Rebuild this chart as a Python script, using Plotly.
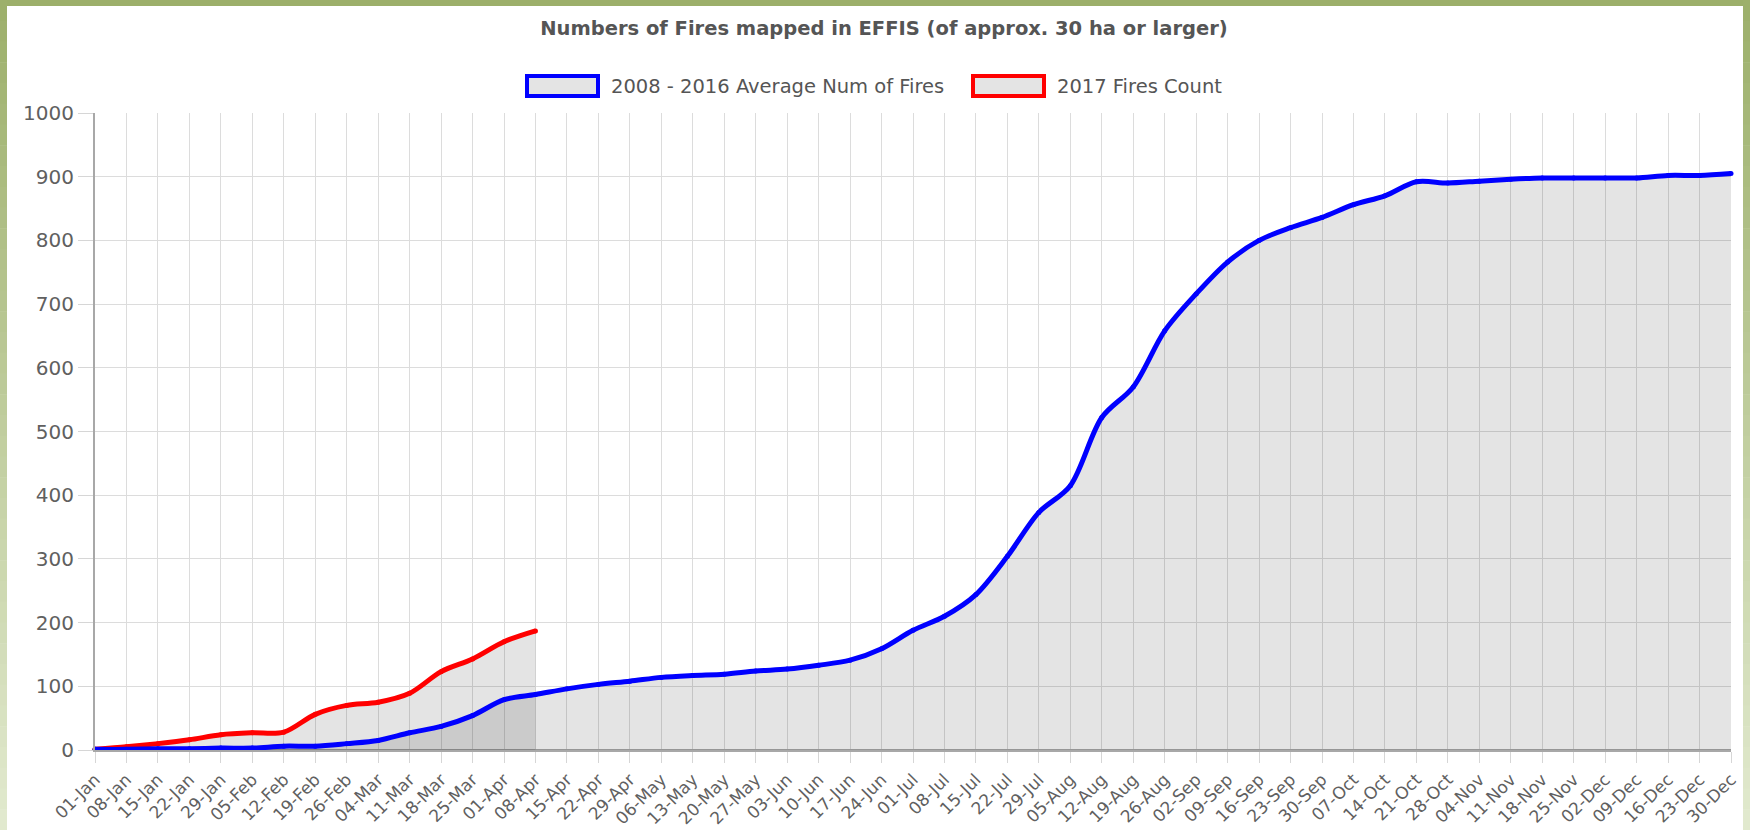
import plotly.graph_objects as go

categories = ['01-Jan','08-Jan','15-Jan','22-Jan','29-Jan','05-Feb','12-Feb','19-Feb','26-Feb',
              '04-Mar','11-Mar','18-Mar','25-Mar','01-Apr','08-Apr','15-Apr','22-Apr','29-Apr',
              '06-May','13-May','20-May','27-May','03-Jun','10-Jun','17-Jun','24-Jun','01-Jul',
              '08-Jul','15-Jul','22-Jul','29-Jul','05-Aug','12-Aug','19-Aug','26-Aug','02-Sep',
              '09-Sep','16-Sep','23-Sep','30-Sep','07-Oct','14-Oct','21-Oct','28-Oct','04-Nov',
              '11-Nov','18-Nov','25-Nov','02-Dec','09-Dec','16-Dec','23-Dec','30-Dec']

avg_2008_2016 = [1, 1, 2, 2, 3, 3, 6, 6, 10, 15, 27, 37, 54, 79, 87,
                 96, 103, 108, 114, 117, 119, 124, 127, 133, 141, 159, 188, 210, 244, 304,
                 373, 415, 522, 570, 658, 716, 766, 800, 820, 836, 856, 870, 892, 890,
                 893, 896, 898, 898, 898, 898, 902, 902, 905]

count_2017 = [1, 5, 10, 16, 24, 27, 28, 56, 70, 75, 89, 123, 143, 170, 187]

series_names = ['2008 - 2016 Average Num of Fires', '2017 Fires Count']
series_colors = ['#0000ff', '#ff0000']
title_text = 'Numbers of Fires mapped in EFFIS (of approx. 30 ha or larger)'

W, H = 1750, 830
L, R, T, B = 95, 19, 113, 80
PW, PH = W - L - R, H - T - B


def px(x):
    return (x - L) / PW


def py(y):
    return (H - B - y) / PH


FONT = 'DejaVu Sans'
fill = 'rgba(0,0,0,0.105)'

fig = go.Figure()
fig.add_trace(go.Scatter(
    x=categories[:len(count_2017)], y=count_2017, name=series_names[1],
    mode='lines+markers', line=dict(color=series_colors[1], width=5, shape='spline', smoothing=0.9),
    marker=dict(size=5, color=series_colors[1]), fill='tozeroy', fillcolor=fill,
    showlegend=False, cliponaxis=False))
fig.add_trace(go.Scatter(
    x=categories, y=avg_2008_2016, name=series_names[0],
    mode='lines+markers', line=dict(color=series_colors[0], width=5, shape='spline', smoothing=0.9),
    marker=dict(size=5, color=series_colors[0]), fill='tozeroy', fillcolor=fill,
    showlegend=False, cliponaxis=False))

shapes = []
# frame: top band
shapes.append(dict(type='rect', xref='paper', yref='paper', x0=px(0), x1=px(W), y0=py(6), y1=py(0),
                   fillcolor='#9caf6a', line=dict(width=0), layer='above'))


def mix(c1, c2, t):
    a = [int(c1[i:i + 2], 16) for i in (1, 3, 5)]
    b = [int(c2[i:i + 2], 16) for i in (1, 3, 5)]
    return '#%02x%02x%02x' % tuple(round(a[k] + (b[k] - a[k]) * t) for k in range(3))


N = 40
for k in range(N):
    y0p, y1p = H * k / N, H * (k + 1) / N
    col = mix('#9caf6a', '#e2eacf', (k + 0.5) / N)
    for (xa, xb) in ((0, 7), (W - 7, W)):
        shapes.append(dict(type='rect', xref='paper', yref='paper', x0=px(xa), x1=px(xb),
                           y0=py(y1p + 0.5), y1=py(y0p), fillcolor=col, line=dict(width=0), layer='above'))

# custom legend boxes
annotations = []
legend_items = [(527, 598, 609), (973, 1044, 1055)]
for (bx0, bx1, tx), name, col in zip(legend_items, series_names, series_colors):
    shapes.append(dict(type='rect', xref='paper', yref='paper', x0=px(bx0), x1=px(bx1),
                       y0=py(96), y1=py(76), fillcolor='#e4e4e4', line=dict(color=col, width=4)))
    annotations.append(dict(text=name, xref='paper', yref='paper', x=px(tx), y=py(86),
                            xanchor='left', yanchor='middle', showarrow=False,
                            font=dict(family=FONT, size=19.5, color='#555555')))

fig.update_layout(
    template='none',
    width=W, height=H,
    margin=dict(l=L, r=R, t=T, b=B, autoexpand=False),
    paper_bgcolor='white', plot_bgcolor='white',
    title=dict(text=title_text, x=884 / W, xref='container', xanchor='center',
               y=1 - 28 / H, yref='container', yanchor='middle',
               font=dict(family=FONT, size=19.5, color='#555555', weight='bold')),
    shapes=shapes, annotations=annotations,
    showlegend=False,
)
fig.update_xaxes(
    type='category', categoryorder='array', categoryarray=categories,
    range=[0, len(categories) - 1], tickangle=-45, automargin=False,
    showgrid=True, gridcolor='#dcdcdc', gridwidth=1,
    ticks='outside', ticklen=11, tickcolor='#d6d6d6', tickwidth=1,
    showline=True, linecolor='#a8a8a8', linewidth=2,
    tickfont=dict(family=FONT, size=17, color='#606060'),
    fixedrange=True,
)
fig.update_yaxes(
    range=[0, 1000], dtick=100, tick0=0, automargin=False,
    showgrid=True, gridcolor='#dcdcdc', gridwidth=1,
    ticks='outside', ticklen=15, tickcolor='#d6d6d6', tickwidth=1,
    showline=True, linecolor='#a8a8a8', linewidth=2,
    zeroline=True, zerolinecolor='#a8a8a8', zerolinewidth=2,
    tickfont=dict(family=FONT, size=20, color='#606060'),
    fixedrange=True,
)

fig.write_html('out.html', config={'displayModeBar': False},
               post_script="document.body.style.margin='0px';document.body.style.overflow='hidden';")
